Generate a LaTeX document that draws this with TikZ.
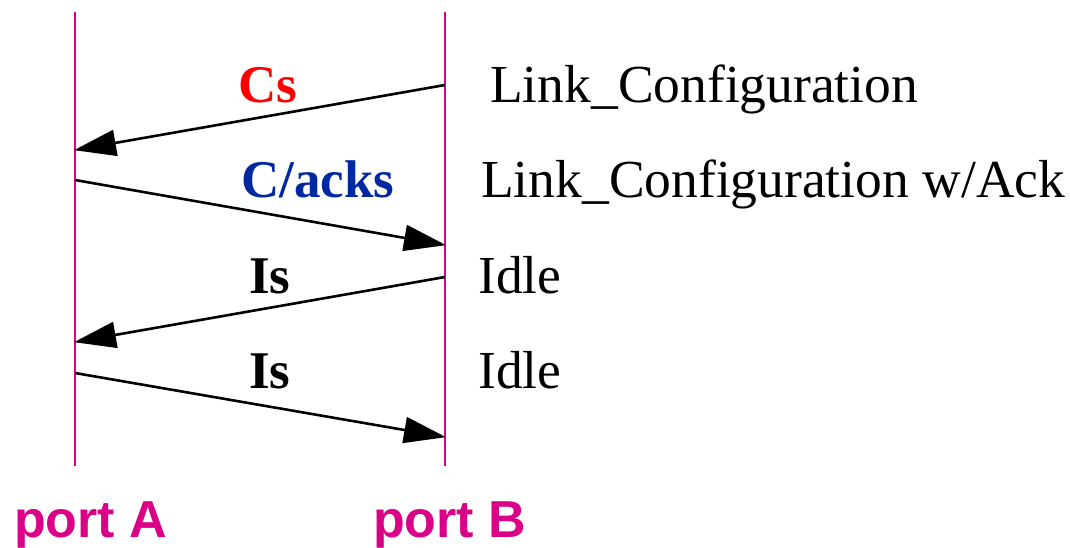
\documentclass[tikz,border=0pt]{standalone}
\usepackage{fontspec}
\setmainfont{Liberation Serif}
\newfontfamily\portfont{Liberation Sans}
\usetikzlibrary{arrows.meta}
\definecolor{portmag}{RGB}{218,0,135}
\definecolor{csred}{RGB}{255,0,0}
\definecolor{ackblue}{RGB}{0,40,160}
\tikzset{
  lifeline/.style={draw=portmag, line width=2pt},
  msg/.style={draw=black, line width=2.6pt, -{Triangle[length=42pt,width=26pt]}, shorten >=-1pt},
  msglabel/.style={font=\fontsize{53}{53}\selectfont\bfseries, anchor=base, inner sep=0pt},
  desc/.style={font=\fontsize{53.5}{53.5}\selectfont, anchor=base west, inner sep=0pt},
  portlabel/.style={font=\portfont\fontsize{52}{52}\selectfont\bfseries, text=portmag, anchor=base west, inner sep=0pt}
}
\begin{document}
\begin{tikzpicture}[x=1pt,y=-1pt]
\useasboundingbox (0,0) rectangle (1070,547);
% lifelines
\coordinate (Atop) at (75,12);
\coordinate (Abot) at (75,466);
\coordinate (Btop) at (445,12);
\coordinate (Bbot) at (445,466);
\draw[lifeline] (Atop) -- (Abot);
\draw[lifeline] (Btop) -- (Bbot);
% message end points
\coordinate (b1) at (445,85);
\coordinate (a1) at (75,150);
\coordinate (a2) at (75,180);
\coordinate (b2) at (445,245);
\coordinate (b3) at (445,277);
\coordinate (a3) at (75,342);
\coordinate (a4) at (75,373);
\coordinate (b4) at (445,437);
\draw[msg] (b1) -- (a1);
\draw[msg] (a2) -- (b2);
\draw[msg] (b3) -- (a3);
\draw[msg] (a4) -- (b4);
% labels
\node[msglabel, text=csred] (lcs) at (268,102) {Cs};
\node[msglabel, text=ackblue] (lack) at (318,197) {C/acks};
\node[msglabel] (lis1) at (270,293) {Is};
\node[msglabel] (lis2) at (270,388) {Is};
\node[desc] (d1) at (490,102) {Link\_Configuration};
\node[desc] (d2) at (481,197) {Link\_Configuration w/Ack};
\node[desc] (d3) at (478,293) {Idle};
\node[desc] (d4) at (478,388) {Idle};
\node[portlabel] (pa) at (14,537) {port A};
\node[portlabel] (pb) at (373,537) {port B};
\end{tikzpicture}
\end{document}
